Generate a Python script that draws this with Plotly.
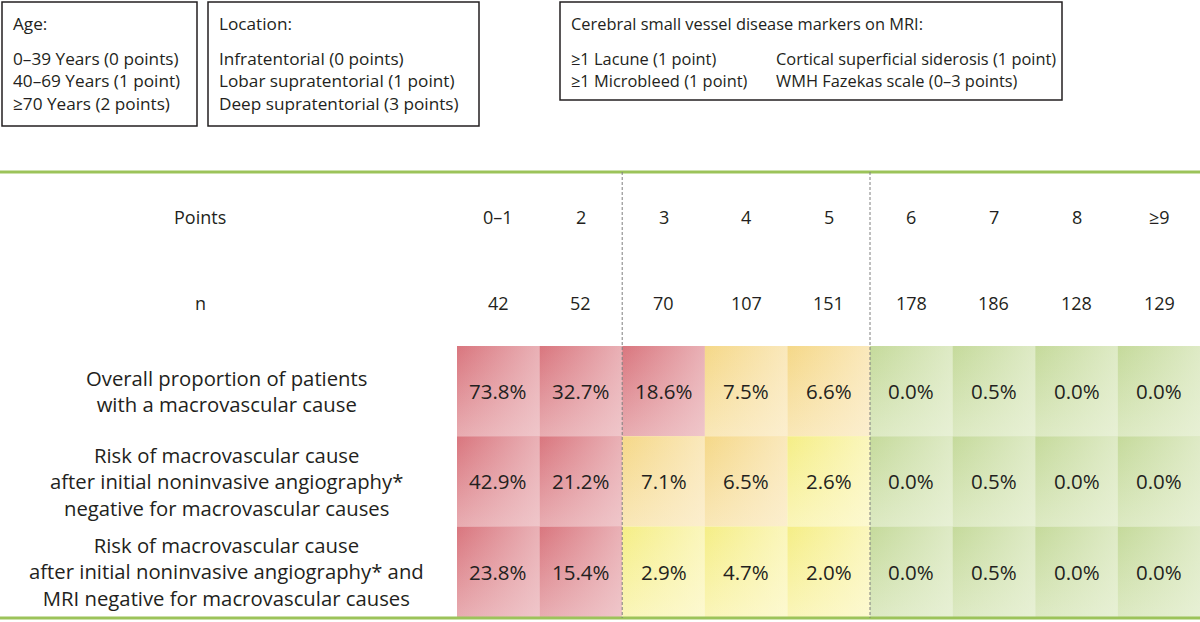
import plotly.graph_objects as go

# Datos de la tabla
points_labels = ["0–1", "2", "3", "4", "5", "6", "7", "8", "≥9"]
n_patients = [42, 52, 70, 107, 151, 178, 186, 128, 129]

row_labels = [
    "Overall proportion of patients<br>with a macrovascular cause",
    "Risk of macrovascular cause<br>after initial noninvasive angiography*<br>"
    "negative for macrovascular causes",
    "Risk of macrovascular cause<br>after initial noninvasive angiography* and<br>"
    "MRI negative for macrovascular causes",
]
overall_pct = [73.8, 32.7, 18.6, 7.5, 6.6, 0.0, 0.5, 0.0, 0.0]
after_angio_pct = [42.9, 21.2, 7.1, 6.5, 2.6, 0.0, 0.5, 0.0, 0.0]
after_angio_mri_pct = [23.8, 15.4, 2.9, 4.7, 2.0, 0.0, 0.5, 0.0, 0.0]
risk_rows = [overall_pct, after_angio_pct, after_angio_mri_pct]

# columnas donde empieza un nuevo grupo (lineas discontinuas)
group_starts = [2, 5]

# Cajas de puntuacion
age_title = "Age:"
age_items = ["0–39 Years (0 points)", "40–69 Years (1 point)", "≥70 Years (2 points)"]
loc_title = "Location:"
loc_items = ["Infratentorial (0 points)", "Lobar supratentorial (1 point)", "Deep supratentorial (3 points)"]
svd_title = "Cerebral small vessel disease markers on MRI:"
svd_col1 = ["≥1 Lacune (1 point)", "≥1 Microbleed (1 point)"]
svd_col2 = ["Cortical superficial siderosis (1 point)", "WMH Fazekas scale (0–3 points)"]

FONT = "Open Sans"
INK = "#231f20"
RULE = "#9cc35a"

# geometria en pixeles
X0, CW = 457, 82.6
Y0, RH = 346, 90.3
RULE_TOP, RULE_BOT = 172, 618

# colores: esquina superior izquierda -> esquina inferior derecha
palette = {
    "red": ("#d9767e", "#f4d8db"),
    "orange": ("#f5d888", "#fdf3de"),
    "yellow": ("#f5ee86", "#fefbe0"),
    "green": ("#c5da9b", "#eff5e2"),
}


def band(v):
    if v >= 10:
        return "red"
    if v >= 5:
        return "orange"
    if v >= 1:
        return "yellow"
    return "green"


def hex2rgb(h):
    h = h.lstrip("#")
    return tuple(int(h[i:i + 2], 16) for i in (0, 2, 4))


def mix(a, b, t):
    ra, rb = hex2rgb(a), hex2rgb(b)
    return "rgb(%d,%d,%d)" % tuple(round(x + (y - x) * t) for x, y in zip(ra, rb))


fig = go.Figure()

# Celdas con degradado diagonal (vertical + capa horizontal)
for r, row in enumerate(risk_rows):
    for c, v in enumerate(row):
        dark, light = palette[band(v)]
        xs = [X0 + c * CW, X0 + (c + 1) * CW, X0 + (c + 1) * CW, X0 + c * CW, X0 + c * CW]
        ys = [Y0 + r * RH, Y0 + r * RH, Y0 + (r + 1) * RH, Y0 + (r + 1) * RH, Y0 + r * RH]
        fig.add_trace(go.Scatter(
            x=xs, y=ys, mode="lines", fill="toself", line=dict(width=0),
            fillgradient=dict(type="vertical",
                              colorscale=[[0, mix(dark, light, 0.55)], [1, dark]]),
            hoverinfo="skip"))
        lr = hex2rgb(light)
        fig.add_trace(go.Scatter(
            x=xs, y=ys, mode="lines", fill="toself", line=dict(width=0),
            fillgradient=dict(type="horizontal",
                              colorscale=[[0, "rgba(%d,%d,%d,0)" % lr],
                                          [1, "rgba(%d,%d,%d,0.6)" % lr]]),
            hoverinfo="skip"))
        fig.add_annotation(x=X0 + (c + 0.5) * CW, y=Y0 + (r + 0.5) * RH,
                           text=f"{v:.1f}%", showarrow=False,
                           font=dict(size=20.5, color=INK))

# Etiquetas de filas
for r, lab in enumerate(row_labels):
    fig.add_annotation(x=226, y=Y0 + (r + 0.5) * RH, text=lab, showarrow=False,
                       align="center", font=dict(size=20.3, color=INK))

# Cabeceras: puntos y n
fig.add_annotation(x=200, y=217, text="Points", showarrow=False, font=dict(size=18, color=INK))
fig.add_annotation(x=200, y=303, text="n", showarrow=False, font=dict(size=18, color=INK))
for c, (p, n) in enumerate(zip(points_labels, n_patients)):
    fig.add_annotation(x=X0 + (c + 0.5) * CW, y=217, text=p, showarrow=False,
                       font=dict(size=18, color=INK))
    fig.add_annotation(x=X0 + (c + 0.5) * CW, y=303, text=str(n), showarrow=False,
                       font=dict(size=18, color=INK))

# Lineas verdes y discontinuas
for yy in (RULE_TOP, RULE_BOT):
    fig.add_shape(type="line", x0=0, x1=1200, y0=yy, y1=yy, line=dict(color=RULE, width=3))
for g in group_starts:
    fig.add_shape(type="line", x0=X0 + g * CW, x1=X0 + g * CW, y0=RULE_TOP, y1=RULE_BOT,
                  line=dict(color="#7f7f7f", width=1, dash="3px,2px"))

# Cajas superiores
boxes = [
    (2, 197, 2, 126, age_title, [age_items], 17.2),
    (208, 479, 2, 126, loc_title, [loc_items], 17.2),
    (560, 1062, 2, 100, svd_title, [svd_col1, svd_col2], 16.4),
]
col_offsets = [0, 205]
for bx0, bx1, by0, by1, title, cols, fs in boxes:
    fig.add_shape(type="rect", x0=bx0, x1=bx1, y0=by0, y1=by1,
                  line=dict(color=INK, width=1.5))
    fig.add_annotation(x=bx0 + 9, y=23, text=title, showarrow=False, xanchor="left",
                       font=dict(size=fs, color=INK))
    for k, items in enumerate(cols):
        for j, item in enumerate(items):
            fig.add_annotation(x=bx0 + 9 + col_offsets[k], y=58 + j * 22.5, text=item,
                               showarrow=False, xanchor="left",
                               font=dict(size=fs, color=INK))

fig.update_layout(
    width=1200, height=622,
    margin=dict(l=0, r=0, t=0, b=0),
    paper_bgcolor="white", plot_bgcolor="white",
    showlegend=False,
    font=dict(family=FONT, color=INK),
    xaxis=dict(range=[0, 1200], visible=False, fixedrange=True),
    yaxis=dict(range=[622, 0], visible=False, fixedrange=True),
)

# quitar el margen por defecto del body para que la figura empiece en (0, 0)
fig.write_html("out.html", config={"displayModeBar": False},
               post_script="document.body.style.margin = '0';")
